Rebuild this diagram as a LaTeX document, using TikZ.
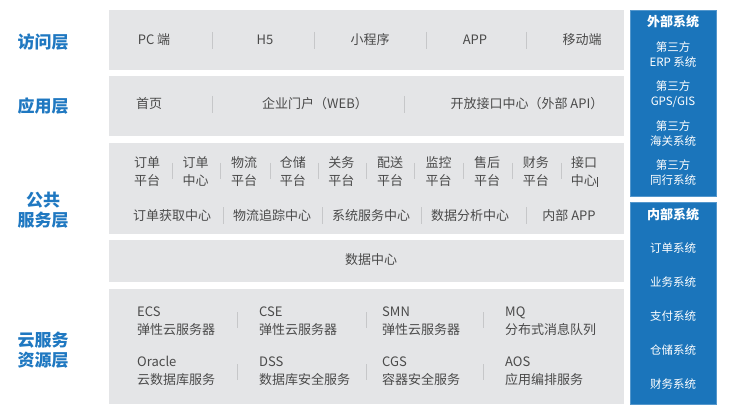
\documentclass[tikz,border=0pt]{standalone}
\usepackage{fontspec}
\newfontfamily\cjk{Noto Sans CJK SC}
\usetikzlibrary{positioning}
\definecolor{panelgray}{HTML}{E4E5E7}
\definecolor{sysblue}{HTML}{1B75BB}
\definecolor{textgray}{HTML}{4A4A4A}
\definecolor{sepgray}{HTML}{C6C7C9}
\definecolor{layerblue}{HTML}{1F78C1}

\begin{document}
\begin{tikzpicture}[x=1pt, y=-1pt, font=\cjk,
  panel/.style={fill=panelgray, inner sep=0pt, anchor=north west, minimum width=515pt},
  sysbox/.style={fill=sysblue, draw=sysblue!75!white, line width=0.8pt, inner sep=0pt, anchor=north west, minimum width=86pt},
  layer/.style={text=layerblue, font=\cjk\bfseries\fontsize{17pt}{20pt}\selectfont, align=center},
  item/.style={text=textgray, font=\cjk\fontsize{13pt}{18pt}\selectfont, align=center, inner sep=0pt},
  res/.style={item, align=left, anchor=west},
  syshead/.style={text=white, font=\cjk\bfseries\fontsize{13pt}{15pt}\selectfont, inner sep=0pt},
  sysitem/.style={text=white, font=\cjk\fontsize{11.5pt}{15pt}\selectfont, align=center, inner sep=0pt},
  sep/.style={draw=sepgray, line width=0.8pt}]
\useasboundingbox (0,0) rectangle (733,414);

% 背景パネル
\node[panel, minimum height=60pt] (access) at (109,10) {};
\node[panel, minimum height=60pt] (app)    at (109,76) {};
\node[panel, minimum height=91pt] (common) at (109,143) {};
\node[panel, minimum height=42pt] (data)   at (109,240) {};
\node[panel, minimum height=115pt] (cloud) at (109,289) {};
\node[sysbox, minimum height=186pt] (ext) at (630,10) {};
\node[sysbox, minimum height=202pt] (int) at (630,202) {};

% 層ラベル
\node[layer] (l-access) at (43,42)  {访问层};
\node[layer] (l-app)    at (43,106) {应用层};
\node[layer] (l-common) at (43,210) {公共\\服务层};
\node[layer] (l-cloud)  at (43,350) {云服务\\资源层};

% 访问层
\node[item] (pc)   at (154,40) {PC 端};
\node[item] (h5)   at (265,40) {H5};
\node[item] (mini) at (370,40) {小程序};
\node[item] (apk)  at (475,40) {APP};
\node[item] (mob)  at (582,40) {移动端};
\foreach \x in {212,314,426,526}
  \draw[sep] (\x,32) -- (\x,49);

% 应用层
\node[item] (home)  at (149,104) {首页};
\node[item] (portal) at (315,104) {企业门户（WEB）};
\node[item] (api)   at (527,104) {开放接口中心（外部 API）};
\foreach \x in {212,404}
  \draw[sep] (\x,96) -- (\x,113);

% 公共服务层（平台）
\foreach \a/\b [count=\i from 0] in {订单/平台,订单/中心,物流/平台,仓储/平台,关务/平台,配送/平台,监控/平台,售后/平台,财务/平台}
  \node[item] (plat\i) at (147+48.6*\i,172) {\a\\\b};
\node[item] (plat9) at (584,172) {接口\\中心\rule[-1pt]{0.5pt}{10pt}};
\foreach \x in {172,220,270,318,366,414,463,512,561}
  \draw[sep] (\x,163) -- (\x,179);

% 公共服务层（中心）
\node[item] (fetch)  at (172,216) {订单获取中心};
\node[item] (track)  at (272,216) {物流追踪中心};
\node[item] (svc)    at (371,216) {系统服务中心};
\node[item] (ana)    at (470,216) {数据分析中心};
\node[item] (inapp)  at (569,216) {内部 APP};
\foreach \x in {223,322,421,526}
  \draw[sep] (\x,207) -- (\x,224);

% 数据中心
\node[item] (dc) at (371,260) {数据中心};

% 云服务资源层
\node[res] (ecs) at (137,321) {ECS\\弹性云服务器};
\node[res] (cse) at (259,321) {CSE\\弹性云服务器};
\node[res] (smn) at (382,321) {SMN\\弹性云服务器};
\node[res] (mq)  at (505,321) {MQ\\分布式消息队列};
\node[res] (ora) at (137,371) {Oracle\\云数据库服务};
\node[res] (dss) at (259,371) {DSS\\数据库安全服务};
\node[res] (cgs) at (382,371) {CGS\\容器安全服务};
\node[res] (aos) at (505,371) {AOS\\应用编排服务};
\foreach \x in {237,366,483} {
  \draw[sep] (\x,312) -- (\x,328);
  \draw[sep] (\x,364) -- (\x,380);
}

% 外部系统
\node[syshead] (exthead) at (673,22) {外部系统};
\node[sysitem] (erp) at (673,55)  {第三方\\ERP 系统};
\node[sysitem] (gps) at (673,94)  {第三方\\GPS/GIS};
\node[sysitem] (cus) at (673,134) {第三方\\海关系统};
\node[sysitem] (peer) at (673,173) {第三方\\同行系统};

% 内部系统
\node[syshead] (inthead) at (673,215) {内部系统};
\foreach \t [count=\i from 0] in {订单系统,业务系统,支付系统,仓储系统,财务系统}
  \node[sysitem] (intsys\i) at (673,248+34*\i) {\t};
\end{tikzpicture}
\end{document}
